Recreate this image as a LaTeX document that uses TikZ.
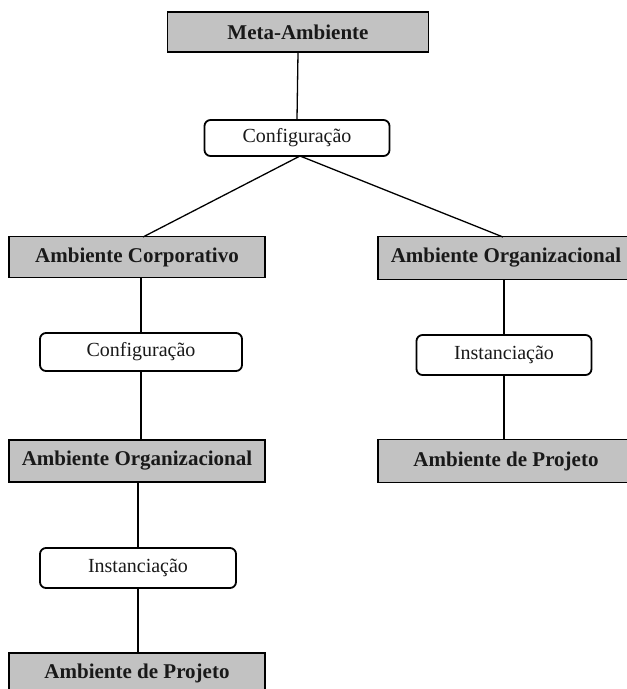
\documentclass[tikz,border=0pt]{standalone}
\usepackage{fontspec}
\setmainfont{Liberation Serif}
\begin{document}
\begin{tikzpicture}[x=1pt,y=-1pt,
  envbox/.style={draw=black, line width=1.8pt, fill=black!24, rectangle, inner sep=0pt,
    font=\fontsize{21}{23}\selectfont\bfseries, text=black!90},
  procbox/.style={draw=black, line width=1.8pt, fill=white, rectangle, rounded corners=6pt, inner sep=0pt,
    font=\fontsize{20}{22}\selectfont, text=black!90},
  link/.style={draw=black, line width=1.3pt}]
\useasboundingbox (0,0) rectangle (627,689);
\clip (0,0) rectangle (627,689);
\node[envbox, minimum width=261pt, minimum height=40pt] (meta) at (298,32) {Meta-Ambiente};
\node[procbox, minimum width=185pt, minimum height=36pt] (conf1) at (297,138) {Configuração};
\node[envbox, minimum width=256pt, minimum height=41pt] (corp) at (137,257) {Ambiente Corporativo};
\node[procbox, minimum width=202pt, minimum height=38pt] (conf2) at (141,352) {Configuração};
\node[envbox, minimum width=256pt, minimum height=42pt] (orgl) at (137,461) {Ambiente Organizacional};
\node[procbox, minimum width=196pt, minimum height=40pt] (instl) at (138,568) {Instanciação};
\node[envbox, minimum width=256pt, minimum height=40pt] (projl) at (137,673) {Ambiente de Projeto};
\node[envbox, minimum width=256pt, minimum height=43pt] (orgr) at (506,258) {Ambiente Organizacional};
\node[procbox, minimum width=175pt, minimum height=40pt] (instr) at (504,355) {Instanciação};
\node[envbox, minimum width=256pt, minimum height=43pt] (projr) at (506,461) {Ambiente de Projeto};
\coordinate (c1b) at (300,156);
\coordinate (corpt) at (143,237);
\coordinate (orgrt) at (503,237);
\draw[link] (meta.south) -- (conf1.north);
\draw[link] (c1b) -- (corpt);
\draw[link] (c1b) -- (orgrt);
\draw[link] (corp.south -| conf2.north) -- (conf2.north);
\draw[link] (conf2.south) -- (orgl.north -| conf2.south);
\draw[link] (orgl.south -| instl.north) -- (instl.north);
\draw[link] (instl.south) -- (projl.north -| instl.south);
\draw[link] (orgr.south -| instr.north) -- (instr.north);
\draw[link] (instr.south) -- (projr.north -| instr.south);
\end{tikzpicture}
\end{document}
